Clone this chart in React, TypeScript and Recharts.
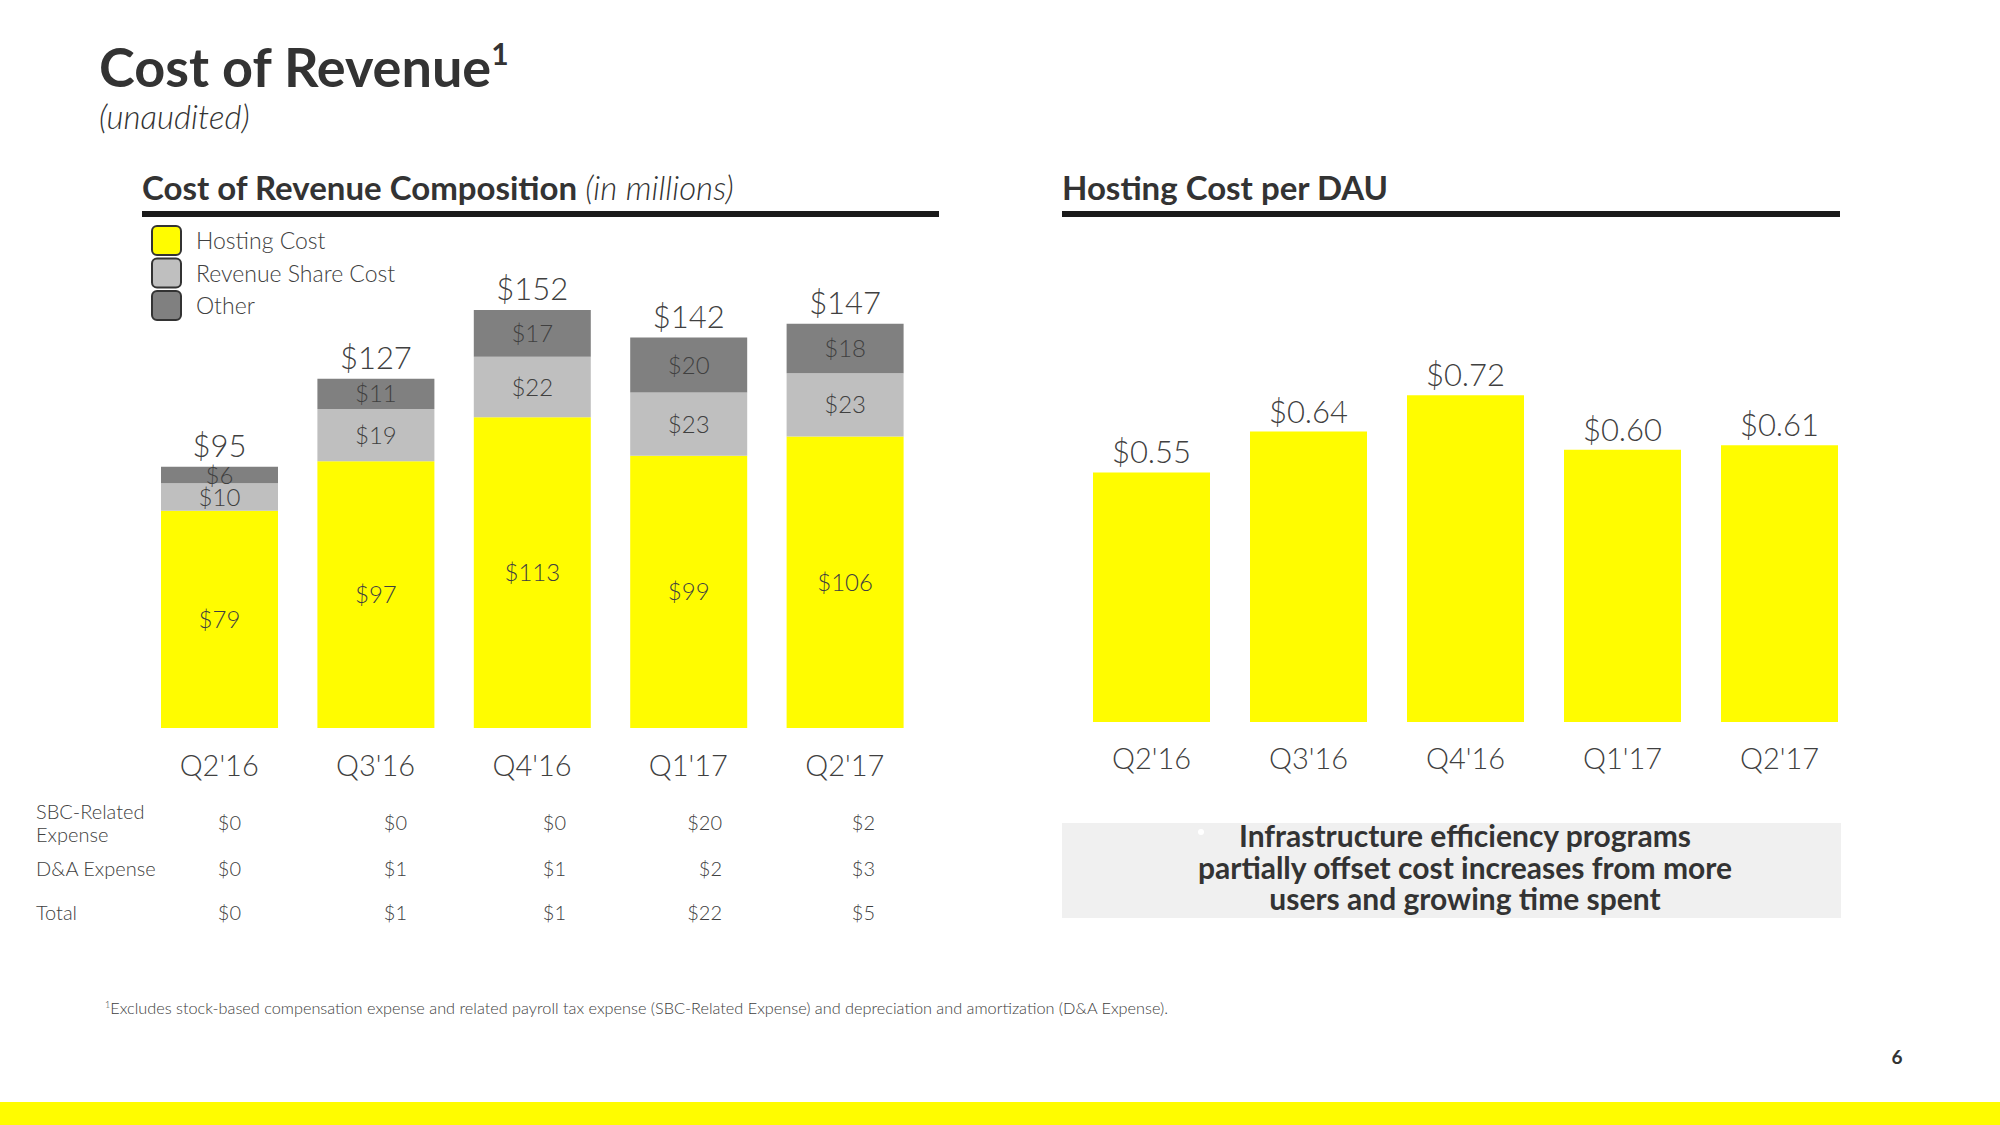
import React from 'react';
import { BarChart, Bar, XAxis, YAxis, LabelList } from 'recharts';

const FONT = "Lato, 'Open Sans', sans-serif";
const TEXT = '#404040';
const HEAD = '#333333';
const YELLOW = '#FFFC00';
const LIGHT_GRAY = '#BFBFBF';
const DARK_GRAY = '#808080';

const quarters = ["Q2'16", "Q3'16", "Q4'16", "Q1'17", "Q2'17"];
const hostingCost = [79, 97, 113, 99, 106];
const revenueShareCost = [10, 19, 22, 23, 23];
const otherCost = [6, 11, 17, 20, 18];
const totalCost = [95, 127, 152, 142, 147];
const hostingPerDau = [0.55, 0.64, 0.72, 0.6, 0.61];

const tableRows = ['SBC-Related Expense', 'D&A Expense', 'Total'];
const sbcExpense = [0, 0, 0, 20, 2];
const daExpense = [0, 1, 1, 2, 3];
const excludedTotal = [0, 1, 1, 22, 5];

const legendItems = [
  { name: 'Hosting Cost', color: YELLOW },
  { name: 'Revenue Share Cost', color: LIGHT_GRAY },
  { name: 'Other', color: DARK_GRAY },
];

const compositionData = quarters.map((q, i) => ({
  quarter: q,
  hosting: hostingCost[i],
  revenueShare: revenueShareCost[i],
  other: otherCost[i],
  total: totalCost[i],
}));

const dauData = quarters.map((q, i) => ({ quarter: q, perDau: hostingPerDau[i] }));

const quarterTick = (dy: number) => (props: any) => {
  const { x, y, payload } = props;
  return (
    <text x={x} y={y + dy} textAnchor="middle" fontSize={29} fontWeight={300} fill={TEXT} fontFamily={FONT}>
      {payload.value}
    </text>
  );
};

const segmentLabel = (props: any) => {
  const { x, y, width, height, value } = props;
  return (
    <text
      x={x + width / 2}
      y={y + height / 2 + 8.5}
      textAnchor="middle"
      fontSize={24}
      fontWeight={300}
      fill={TEXT}
      fontFamily={FONT}
    >
      ${value}
    </text>
  );
};

const totalLabel = (props: any) => {
  const { x, y, width, value } = props;
  return (
    <text x={x + width / 2} y={y - 10} textAnchor="middle" fontSize={31} fontWeight={300} fill={TEXT} fontFamily={FONT}>
      ${value}
    </text>
  );
};

const dauLabel = (props: any) => {
  const { x, y, width, value } = props;
  return (
    <text x={x + width / 2} y={y - 9} textAnchor="middle" fontSize={31} fontWeight={300} fill={TEXT} fontFamily={FONT}>
      ${Number(value).toFixed(2)}
    </text>
  );
};

// right edges of the table value columns
const tableCols = [241, 407, 566, 722, 875];
const tableRowY = [830, 876, 920];

const App = () => {
  const tableValues = [sbcExpense, daExpense, excludedTotal];
  return (
    <div
      style={{
        position: 'absolute',
        left: 0,
        top: 0,
        width: 2000,
        height: 1125,
        background: '#fff',
        overflow: 'hidden',
        fontFamily: FONT,
      }}
    >
      <div style={{ position: 'absolute', left: 0, top: 0 }}>
        <BarChart
          width={1000}
          height={800}
          data={compositionData}
          margin={{ top: 288, right: 77, bottom: 42, left: 141 }}
        >
          <XAxis
            dataKey="quarter"
            axisLine={false}
            tickLine={false}
            tickSize={0}
            tickMargin={0}
            height={30}
            interval={0}
            tick={quarterTick(48)}
          />
          <YAxis hide domain={[0, 160]} />
          <Bar dataKey="hosting" stackId="a" fill={YELLOW} barSize={117} isAnimationActive={false}>
            <LabelList dataKey="hosting" content={segmentLabel} />
          </Bar>
          <Bar dataKey="revenueShare" stackId="a" fill={LIGHT_GRAY} barSize={117} isAnimationActive={false}>
            <LabelList dataKey="revenueShare" content={segmentLabel} />
          </Bar>
          <Bar dataKey="other" stackId="a" fill={DARK_GRAY} barSize={117} isAnimationActive={false}>
            <LabelList dataKey="other" content={segmentLabel} />
            <LabelList dataKey="total" content={totalLabel} />
          </Bar>
        </BarChart>
      </div>

      <div style={{ position: 'absolute', left: 1000, top: 0 }}>
        <BarChart
          width={1000}
          height={800}
          data={dauData}
          margin={{ top: 359, right: 142, bottom: 48, left: 73 }}
        >
          <XAxis
            dataKey="quarter"
            axisLine={false}
            tickLine={false}
            tickSize={0}
            tickMargin={0}
            height={30}
            interval={0}
            tick={quarterTick(47)}
          />
          <YAxis hide domain={[0, 0.8]} />
          <Bar dataKey="perDau" fill={YELLOW} barSize={117} isAnimationActive={false}>
            <LabelList dataKey="perDau" content={dauLabel} />
          </Bar>
        </BarChart>
      </div>

      <svg
        width={2000}
        height={1125}
        style={{ position: 'absolute', left: 0, top: 0, pointerEvents: 'none' }}
        fontFamily={FONT}
      >
        <text x={99} y={87} fontSize={54} fontWeight={700} fill={HEAD}>
          Cost of Revenue
          <tspan fontSize={30} dy={-22}>1</tspan>
        </text>
        <text x={99} y={129} fontSize={33} fontWeight={300} fontStyle="italic" fill={HEAD}>
          (unaudited)
        </text>

        <text x={142} y={200} fontSize={33} fontWeight={700} fill={HEAD}>
          Cost of Revenue Composition
          <tspan fontWeight={300} fontStyle="italic" dx={8}>(in millions)</tspan>
        </text>
        <rect x={142} y={211} width={797} height={6} fill="#1a1a1a" />

        <text x={1062} y={200} fontSize={33} fontWeight={700} fill={HEAD}>
          Hosting Cost per DAU
        </text>
        <rect x={1062} y={211} width={778} height={6} fill="#1a1a1a" />

        {legendItems.map((item, i) => (
          <g key={item.name}>
            <rect
              x={152}
              y={226 + i * 32.5}
              width={29}
              height={29}
              rx={5}
              fill={item.color}
              stroke="#333"
              strokeWidth={2}
            />
            <text x={196} y={249 + i * 32.5} fontSize={23} fontWeight={300} fill={TEXT}>
              {item.name}
            </text>
          </g>
        ))}

        <text x={36} y={819} fontSize={20} fontWeight={300} fill={TEXT}>SBC-Related</text>
        <text x={36} y={842} fontSize={20} fontWeight={300} fill={TEXT}>Expense</text>
        <text x={36} y={876} fontSize={20} fontWeight={300} fill={TEXT}>D&amp;A Expense</text>
        <text x={36} y={920} fontSize={20} fontWeight={300} fill={TEXT}>{tableRows[2]}</text>
        {tableValues.map((row, r) =>
          row.map((v, c) => (
            <text
              key={`${r}-${c}`}
              x={tableCols[c]}
              y={tableRowY[r]}
              fontSize={20}
              fontWeight={300}
              fill={TEXT}
              textAnchor="end"
            >
              ${v}
            </text>
          ))
        )}

        <rect x={1062} y={823} width={779} height={95} fill="#F0F0F0" />
        <circle cx={1201} cy={832} r={3} fill="#fff" />
        <text x={1465} y={847} fontSize={30} fontWeight={700} fill={HEAD} textAnchor="middle">
          Infrastructure efficiency programs
        </text>
        <text x={1465} y={879} fontSize={30} fontWeight={700} fill={HEAD} textAnchor="middle">
          partially offset cost increases from more
        </text>
        <text x={1465} y={910} fontSize={30} fontWeight={700} fill={HEAD} textAnchor="middle">
          users and growing time spent
        </text>

        <text x={105} y={1014} fontSize={16.3} fontWeight={300} fill={TEXT}>
          <tspan fontSize={9} dy={-6}>1</tspan>
          <tspan dy={6}>
            Excludes stock-based compensation expense and related payroll tax expense (SBC-Related Expense) and
            depreciation and amortization (D&amp;A Expense).
          </tspan>
        </text>

        <text x={1897} y={1064} fontSize={19} fontWeight={700} fill={HEAD} textAnchor="middle">
          6
        </text>
        <rect x={0} y={1102} width={2000} height={23} fill={YELLOW} />
      </svg>
    </div>
  );
};

export default App;
